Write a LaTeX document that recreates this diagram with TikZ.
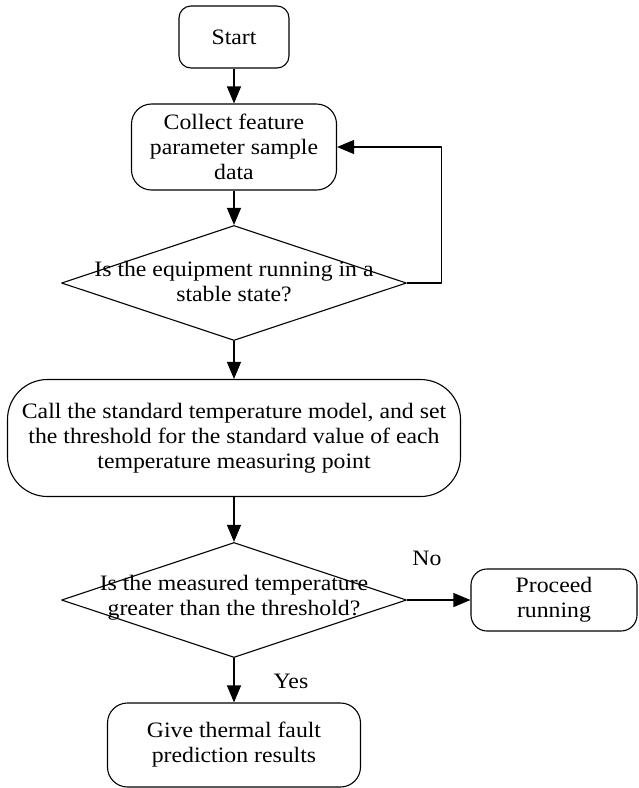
\documentclass[tikz,border=0pt]{standalone}
\usepackage{fontspec}
\setmainfont{Liberation Serif}[FakeStretch=1.08]
\usetikzlibrary{shapes.geometric,arrows.meta}
\begin{document}
\begin{tikzpicture}[x=1pt, y=-1pt, line width=1.1pt, line join=round,
	font=\fontsize{22}{25}\selectfont, >={Triangle[length=17pt,width=14pt]},
	box/.style={draw, rounded corners=#1, align=center, inner sep=0pt},
	box/.default=16pt,
	decision/.style={draw, diamond, minimum width=345pt, minimum height=115pt, inner sep=0pt}]
	\useasboundingbox (0,0) rectangle (638,788);
	% boxes down the middle column
	\node[box=12pt, minimum width=110pt, minimum height=62pt] (start) at (234,37) {Start};
	\node[box=20pt, minimum width=205pt, minimum height=86pt] (collect) at (234,147) {Collect feature\\parameter sample\\data};
	\node[decision] (stable) at (234,283) {};
	\node[align=center, inner sep=0pt] (stabletext) at (234,282) {Is the equipment running in a\\stable state?};
	\node[box=40pt, minimum width=453pt, minimum height=117pt] (model) at (234,438) {Call the standard temperature model, and set\\the threshold for the standard value of each\\temperature measuring point};
	\node[decision] (thres) at (234,600) {};
	\node[align=center, inner sep=0pt] (threstext) at (234,598) {Is the measured temperature\\greater than the threshold?};
	\node[box=20pt, minimum width=253pt, minimum height=84pt] (give) at (234,745) {Give thermal fault\\prediction results};
	\node[box=16pt, minimum width=166pt, minimum height=62pt] (proceed) at (554,600) {Proceed\\running};
	% connectors
	\draw[->] (start) -- (collect);
	\draw[->] (collect) -- (stable);
	\draw[->] (stable.east) -- ++(34,0) |- (collect.east);
	\draw[->] (stable) -- (model);
	\draw[->] (model) -- (thres);
	\draw[->] (thres) -- (proceed);
	\draw[->] (thres) -- (give);
	\path (427,558) node (no) {No}
	(291,681) node (yes) {Yes};
\end{tikzpicture}
\end{document}
